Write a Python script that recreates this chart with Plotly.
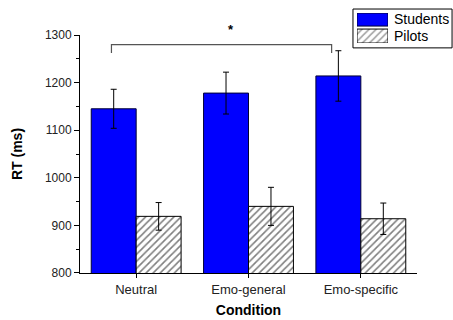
import plotly.graph_objects as go

conditions = ["Neutral", "Emo-general", "Emo-specific"]
students = [1145, 1178, 1214]
students_err = [41, 44, 53]
pilots = [919, 940, 914]
pilots_err = [29, 40, 33]
y_ticks = [800, 900, 1000, 1100, 1200, 1300]
series_names = ["Students", "Pilots"]

FONT = "Arial, Liberation Sans, sans-serif"
BLUE = "#0000FF"
HATCH = dict(shape="/", fgcolor="black", bgcolor="white", size=5, solidity=0.32)

fig = go.Figure()
fig.add_trace(go.Bar(
    name=series_names[0], x=conditions, y=students,
    error_y=dict(type="data", array=students_err, color="black", thickness=1, width=3),
    marker=dict(color=BLUE, line=dict(color="#000033", width=1)),
))
fig.add_trace(go.Bar(
    name=series_names[1], x=conditions, y=pilots,
    error_y=dict(type="data", array=pilots_err, color="black", thickness=1, width=3),
    marker=dict(color="white", line=dict(color="black", width=1), pattern=HATCH),
))

# legend swatches drawn as bars on a small hidden axis pair (so the hatch is real)
fig.add_trace(go.Bar(
    x=[0, 0], y=[13, 14], base=[17, 0], width=[1, 1],
    xaxis="x2", yaxis="y2", showlegend=False, hoverinfo="skip",
    marker=dict(color=[BLUE, "white"], line=dict(color=["#000033", "black"], width=1),
                pattern=dict(shape=["", "/"], fgcolor="black", bgcolor=[BLUE, "white"], size=5, solidity=0.32)),
))

# significance bracket between Neutral and Emo-specific students
bracket_y = 1280
bracket_drop = 18
x_left = 0 - 0.22
x_right = 2 - 0.26
fig.add_shape(type="path",
              path=f"M {x_left},{bracket_y - bracket_drop} L {x_left},{bracket_y} L {x_right},{bracket_y} L {x_right},{bracket_y - bracket_drop}",
              line=dict(color="#555555", width=1.2), xref="x", yref="y")
fig.add_annotation(x=0.84, y=0.907, text="<b>*</b>", showarrow=False,
                   xref="x", yref="paper", yanchor="middle", font=dict(size=13, color="black", family=FONT))

# legend frame and labels
fig.add_shape(type="rect", xref="paper", yref="paper", x0=0.810, x1=1.104, y0=0.840, y1=0.985,
              line=dict(color="black", width=1), fillcolor="rgba(0,0,0,0)", layer="below")
fig.add_annotation(xref="paper", yref="paper", x=0.925, y=0.948, text=series_names[0], showarrow=False,
                   xanchor="left", yanchor="middle", font=dict(size=14, color="black", family=FONT))
fig.add_annotation(xref="paper", yref="paper", x=0.925, y=0.884, text=series_names[1], showarrow=False,
                   xanchor="left", yanchor="middle", font=dict(size=14, color="black", family=FONT))

fig.update_layout(
    width=453, height=320,
    margin=dict(l=80, r=36, t=5, b=47, autoexpand=False),
    paper_bgcolor="white", plot_bgcolor="rgba(0,0,0,0)",
    barmode="group", bargap=0.2, bargroupgap=0,
    font=dict(family=FONT, size=12, color="#222222"),
    showlegend=False,
    xaxis=dict(
        type="category", range=[-0.5, 2.5], domain=[0, 1], automargin=False,
        showline=True, linecolor="black", linewidth=1,
        ticks="outside", ticklen=4, tickcolor="black",
        tickfont=dict(size=13),
        showgrid=False, zeroline=False,
        title=dict(text="<b>Condition</b>", font=dict(size=14, color="black", family=FONT), standoff=9),
    ),
    yaxis=dict(
        range=[800, 1300], tickvals=y_ticks, domain=[0, 0.888], automargin=False,
        showline=True, linecolor="black", linewidth=1,
        ticks="outside", ticklen=5, tickcolor="black",
        tickfont=dict(size=12),
        minor=dict(dtick=50, ticks="outside", ticklen=3, tickcolor="black"),
        showgrid=False, zeroline=False,
        title=dict(text="<b>RT (ms)</b>", font=dict(size=14, color="black", family=FONT), standoff=18),
    ),
    xaxis2=dict(domain=[0.822, 0.914], range=[-0.5, 0.5], visible=False, fixedrange=True,
                anchor="y2", automargin=False),
    yaxis2=dict(domain=[0.858, 0.970], range=[0, 30], visible=False, fixedrange=True,
                anchor="x2", automargin=False),
)

fig.write_html("out.html", config={"displayModeBar": False, "staticPlot": True},
               post_script="document.body.style.margin='0';document.body.style.overflow='hidden';")
